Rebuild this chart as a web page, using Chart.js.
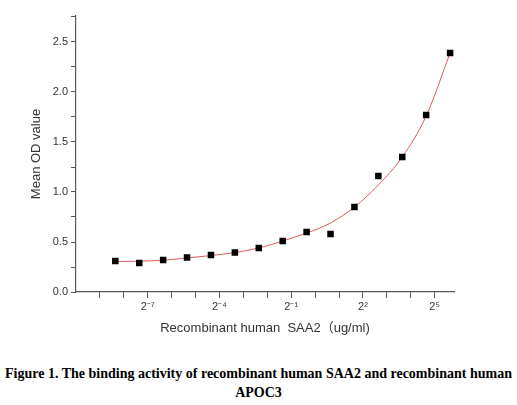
<!DOCTYPE html>
<html>
<head>
<meta charset="utf-8">
<script src="https://cdn.jsdelivr.net/npm/chart.js@4"></script>
<style>
  body { margin: 0; background: #fff; }
  #wrap { width: 517px; height: 345px; }
  .caption {
    width: 517px;
    text-align: center;
    font: bold 14px "Liberation Serif", "Times New Roman", serif;
    color: #000;
    line-height: 19px;
    margin-top: 19px;
  }
</style>
</head>
<body>
<div id="wrap"><canvas id="myChart"></canvas></div>
<div class="caption">Figure 1. The binding activity of recombinant human SAA2 and recombinant human<br>APOC3</div>
<script>
// concentration (ug/ml), two-fold dilutions
const concentrations = [0.0030517578125, 0.006103515625, 0.01220703125, 0.0244140625, 0.048828125,
  0.09765625, 0.1953125, 0.390625, 0.78125, 1.5625, 3.125, 6.25, 12.5, 25, 50];
// measured mean OD
const odValues = [0.31, 0.29, 0.32, 0.345, 0.37, 0.395, 0.44, 0.51, 0.60, 0.58, 0.85, 1.16, 1.35, 1.77, 2.39];
// fitted curve read at the same concentrations
const fitValues = [0.305, 0.308, 0.318, 0.34, 0.365, 0.395, 0.44, 0.51, 0.59, 0.69, 0.85, 1.07, 1.35, 1.76, 2.39];

// x axis ticks: powers of two
const xTickExps = [-9, -8, -7, -6, -5, -4, -3, -2, -1, 0, 1, 2, 3, 4, 5];
const xTickLabels = ["", "", "2\u207B\u2077", "", "", "2\u207B\u2074", "", "", "2\u207B\u00B9", "", "", "2\u00B2", "", "", "2\u2075"];

const axisColor = "#555";
const textColor = "#333";
const sans = "'Liberation Sans', Arial, 'Noto Sans CJK SC', sans-serif";

const points = concentrations.map((c, i) => ({ x: c, y: odValues[i] }));
const fitLine = concentrations.map((c, i) => ({ x: c, y: fitValues[i] }));

new Chart(document.getElementById("myChart"), {
  type: "line",
  data: {
    datasets: [
      {
        label: "fit",
        data: fitLine,
        borderColor: "rgb(225,90,90)",
        borderWidth: 1,
        pointRadius: 0,
        cubicInterpolationMode: "monotone",
        order: 2,
      },
      {
        label: "OD",
        data: points,
        showLine: false,
        pointStyle: "rect",
        pointRadius: 4.6,
        backgroundColor: "#000",
        borderColor: "#000",
        borderWidth: 0,
        order: 1,
      },
    ],
  },
  options: {
    responsive: true,
    maintainAspectRatio: false,
    animation: false,
    layout: { padding: { left: 29, right: 63, top: 16, bottom: 9 } },
    plugins: { legend: { display: false }, tooltip: { enabled: false } },
    scales: {
      x: {
        type: "logarithmic",
        min: 0.0009765625,
        max: 56,
        afterBuildTicks: (scale) => {
          scale.ticks = xTickExps.map((e) => ({ value: Math.pow(2, e) }));
        },
        afterFit: (scale) => { scale.height = 44; },
        border: { display: true, color: axisColor, width: 1.2 },
        grid: { drawOnChartArea: false, drawTicks: true, tickLength: 6, color: axisColor },
        ticks: {
          autoSkip: false,
          maxRotation: 0,
          padding: 2,
          color: textColor,
          font: { family: sans, size: 11 },
          callback: (v, i) => xTickLabels[i],
        },
        title: {
          display: true,
          text: "Recombinant human  SAA2\uFF08ug/ml)",
          color: textColor,
          font: { family: sans, size: 13 },
          padding: { top: 4, bottom: 0 },
        },
      },
      y: {
        type: "linear",
        min: 0,
        max: 2.76,
        afterFit: (scale) => { scale.width = 47; },
        border: { display: true, color: axisColor, width: 1.2 },
        grid: { drawOnChartArea: false, drawTicks: true, tickLength: 5, color: axisColor },
        ticks: {
          stepSize: 0.25,
          padding: 3,
          color: textColor,
          font: { family: sans, size: 11 },
          callback: (v) => (Math.abs(v * 2 - Math.round(v * 2)) < 1e-6 ? v.toFixed(1) : ""),
        },
        title: {
          display: true,
          text: "Mean OD value",
          color: textColor,
          font: { family: sans, size: 13 },
          padding: { top: 0, bottom: 0 },
        },
      },
    },
  },
});
</script>
</body>
</html>
